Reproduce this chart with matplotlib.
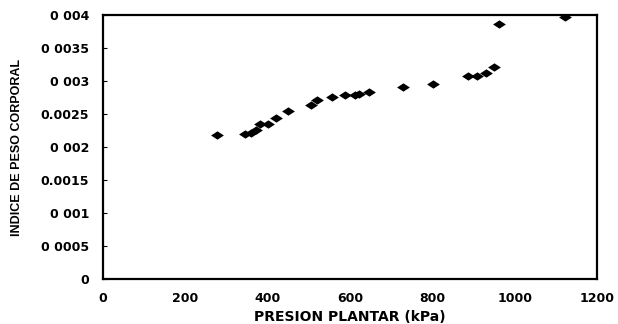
import matplotlib
matplotlib.use("Agg")
import matplotlib.pyplot as plt
from matplotlib.path import Path

# Data
presion = [276, 345, 360, 372, 381, 400, 420, 449, 505, 520, 556, 588,
           612, 622, 646, 728, 802, 887, 909, 930, 950, 963, 1122]
indice = [0.00218, 0.00219, 0.00221, 0.00225, 0.00235, 0.00234, 0.00244,
          0.00255, 0.00263, 0.00271, 0.00275, 0.00279, 0.00279, 0.00280,
          0.00283, 0.00291, 0.00295, 0.00307, 0.00308, 0.00312, 0.00321,
          0.00386, 0.00397]

x_ticks = [0, 200, 400, 600, 800, 1000, 1200]
y_ticks = [0, 0.0005, 0.001, 0.0015, 0.002, 0.0025, 0.003, 0.0035, 0.004]
y_tick_labels = ["0", "0 0005", "0 001", "0.0015", "0 002", "0.0025",
                 "0 003", "0 0035", "0 004"]

# flat diamond marker, wider than tall
diamond = Path([(-1, 0), (0, 0.65), (1, 0), (0, -0.65), (-1, 0)],
               [Path.MOVETO, Path.LINETO, Path.LINETO, Path.LINETO, Path.CLOSEPOLY])

fig = plt.figure(figsize=(6.18, 3.24), dpi=100)
ax = fig.add_axes([0.1667, 0.1404, 0.7993, 0.8133])

ax.scatter(presion, indice, marker=diamond, s=85, color="black",
           linewidths=0, zorder=3)

ax.set_xlim(0, 1200)
ax.set_ylim(0, 0.004)
ax.set_xticks(x_ticks)
ax.set_xticklabels([str(t) for t in x_ticks])
ax.set_yticks(y_ticks)
ax.set_yticklabels(y_tick_labels)

for s in ax.spines.values():
    s.set_linewidth(1.6)
    s.set_color("black")

ax.tick_params(axis="x", length=0, pad=10, labelsize=9)
ax.tick_params(axis="y", direction="in", length=3, width=0.8, pad=10, labelsize=9)
for lab in ax.get_xticklabels() + ax.get_yticklabels():
    lab.set_fontweight("bold")

ax.set_xlabel("PRESION PLANTAR (kPa)", fontsize=10, fontweight="bold", labelpad=3)
fig.text(0.028, 0.545, "INDICE DE PESO CORPORAL", rotation=90, ha="center",
         va="center", fontsize=9, fontweight="bold",
         family=["Liberation Sans", "DejaVu Sans"])

fig.savefig("out.png", dpi=100)
